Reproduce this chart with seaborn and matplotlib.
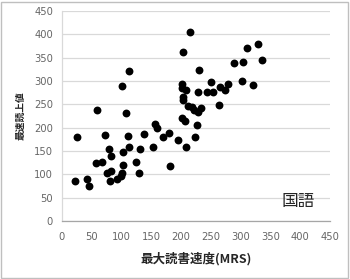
import matplotlib
matplotlib.use("Agg")
import matplotlib.pyplot as plt
import seaborn as sns
import pandas as pd
from matplotlib.patches import Rectangle

mrs = [21, 25, 42, 46, 57, 58, 68, 73, 75, 79, 81, 82, 83, 93, 99, 100, 101, 102,
       103, 107, 111, 112, 113, 125, 129, 131, 138, 153, 156, 160, 170, 180, 181,
       195, 201, 202, 204, 201, 203, 204, 207, 208, 209, 212, 215, 218, 222, 224,
       227, 228, 229, 230, 234, 243, 251, 253, 263, 265, 274, 279, 288, 302, 304,
       310, 320, 329, 335]
reading = [85, 180, 90, 75, 125, 238, 126, 185, 103, 154, 85, 108, 139, 90, 97, 290,
           103, 120, 147, 232, 183, 159, 322, 127, 103, 155, 186, 159, 207, 200, 180,
           188, 118, 174, 294, 286, 362, 220, 266, 260, 215, 158, 281, 246, 406, 244,
           238, 181, 205, 233, 277, 324, 243, 277, 297, 277, 249, 288, 280, 293, 339,
           299, 340, 370, 291, 379, 345]
x_ticks = [0, 50, 100, 150, 200, 250, 300, 350, 400, 450]
y_ticks = [0, 50, 100, 150, 200, 250, 300, 350, 400, 450]
x_label = "最大読書速度(MRS)"
y_label = "最速読上値"
subject = "国語"

df = pd.DataFrame({"mrs": mrs, "reading": reading})

sns.set_style("white")
plt.rcParams["font.family"] = ["Noto Sans CJK JP", "DejaVu Sans"]

fig = plt.figure(figsize=(3.5, 2.79), dpi=100)
ax = fig.add_axes([62/350, 58/279, 268/350, 210/279])

sns.scatterplot(data=df, x="mrs", y="reading", ax=ax, color="black", s=32,
                edgecolor="black", linewidth=0, zorder=3)

ax.set_xlim(0, 450)
ax.set_ylim(0, 450)
ax.set_xticks(x_ticks)
ax.set_yticks(y_ticks)
ax.set_xticklabels([str(t) for t in x_ticks], family="DejaVu Sans", fontsize=7.2, color="#666666")
ax.set_yticklabels([str(t) for t in y_ticks], family="DejaVu Sans", fontsize=7.2, color="#666666")
ax.tick_params(axis="both", direction="out", length=2.5, width=0.8, color="#a6a6a6", pad=4)
ax.tick_params(axis="x", pad=5.5)

ax.yaxis.grid(True, color="#d9d9d9", linewidth=0.9, zorder=0)
ax.xaxis.grid(False)
ax.set_axisbelow(True)
for s in ["top", "right"]:
    ax.spines[s].set_visible(False)
ax.spines["left"].set_color("#d9d9d9")
ax.spines["bottom"].set_color("#a6a6a6")
ax.spines["left"].set_linewidth(0.9)
ax.spines["bottom"].set_linewidth(0.9)

ax.set_xlabel(x_label, fontsize=9, fontweight="bold", color="#262626", labelpad=7)
ax.set_ylabel(y_label, fontsize=7, fontweight="bold", color="#262626", labelpad=6)

ax.text(396, 42, subject, fontsize=12, color="#262626", ha="center", va="center")

fig.patches.append(Rectangle((1/350, 1/279), 347/350, 276/279, transform=fig.transFigure,
                             fill=False, edgecolor="#bfbfbf", linewidth=1))

fig.savefig("out.png", dpi=100)
